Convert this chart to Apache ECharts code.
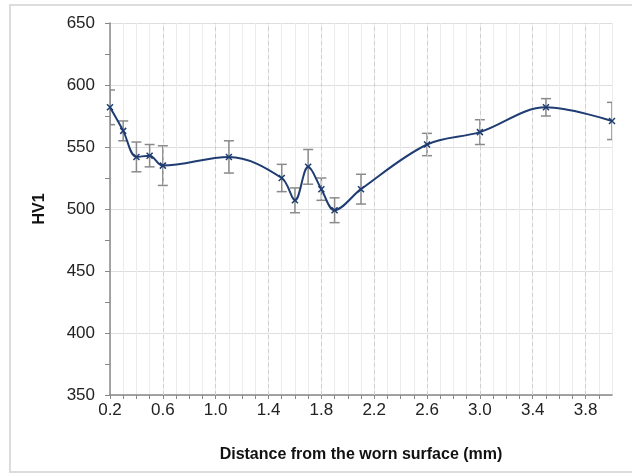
<!DOCTYPE html>
<html>
<head>
<meta charset="utf-8">
<script src="https://cdn.jsdelivr.net/npm/echarts@6/dist/echarts.min.js"></script>
<style>html,body{margin:0;padding:0;background:#fff}#c{width:632px;height:475px}</style>
</head>
<body>
<div id="c"></div>
<script>
var distances = [0.2, 0.3, 0.4, 0.5, 0.6, 1.1, 1.5, 1.6, 1.7, 1.8, 1.9, 2.1, 2.6, 3.0, 3.5, 4.0];
var hardness  = [582, 563, 542, 543, 535, 542, 525, 507, 534, 516, 499, 516, 552, 562, 582, 571];
var errors    = [14, 8, 12, 9, 16, 13, 11, 10, 14, 9, 10, 12, 9, 10, 7, 15];
var xTickLabels = [0.2, 0.6, 1.0, 1.4, 1.8, 2.2, 2.6, 3.0, 3.4, 3.8];
var yTickLabels = [350, 400, 450, 500, 550, 600, 650];
var xTitle = 'Distance from the worn surface (mm)';
var yTitle = 'HV1';

var lineData = distances.map(function (d, i) { return [d, hardness[i]]; });
var errData = distances.map(function (d, i) { return [d, hardness[i] - errors[i], hardness[i] + errors[i]]; });

var crossPath = 'path://M0,0L10,10M10,0L0,10';

var chart = echarts.init(document.getElementById('c'), null, {renderer: 'canvas'});
var font = '"Liberation Sans", Arial, sans-serif';
chart.setOption({
  animation: false,
  graphic: [{
    type: 'rect', shape: {x: 10, y: 5, width: 640, height: 467},
    style: {fill: 'none', stroke: '#dcdcdc', lineWidth: 2}, z: -10
  }],
  grid: {left: 110, right: 20, top: 23, bottom: 80},
  xAxis: {
    type: 'value', min: 0.2, max: 4.0, interval: 0.1,
    name: xTitle, nameLocation: 'middle', nameGap: 52,
    nameTextStyle: {fontFamily: font, fontSize: 16, fontWeight: 'bold', color: '#111'},
    axisLine: {show: true, lineStyle: {color: '#888', width: 1.5}},
    axisTick: {show: true, length: 4, lineStyle: {color: '#888'}},
    axisLabel: {
      fontFamily: font, fontSize: 17, color: '#222', margin: 7, showMaxLabel: false,
      formatter: function (v) {
        for (var i = 0; i < xTickLabels.length; i++) {
          if (Math.abs(v - xTickLabels[i]) < 1e-6) return xTickLabels[i].toFixed(1);
        }
        return '';
      }
    },
    splitLine: {show: true, lineStyle: {color: '#ececec', width: 1}}
  },
  yAxis: {
    type: 'value', min: yTickLabels[0], max: yTickLabels[yTickLabels.length - 1], interval: 50,
    name: yTitle, nameLocation: 'middle', nameGap: 62,
    nameTextStyle: {fontFamily: font, fontSize: 16, fontWeight: 'bold', color: '#111'},
    axisLine: {show: true, lineStyle: {color: '#888', width: 1.5}},
    axisTick: {show: true, length: 5, lineStyle: {color: '#888'}},
    minorTick: {show: true, splitNumber: 2, length: 5, lineStyle: {color: '#888'}},
    axisLabel: {fontFamily: font, fontSize: 17, color: '#222', margin: 15},
    splitLine: {show: true, lineStyle: {color: '#dedede', width: 1.2}}
  },
  series: [
    {
      type: 'line', data: [], silent: true,
      markLine: {
        silent: true, symbol: 'none', label: {show: false},
        lineStyle: {color: '#cfcfcf', type: [4, 3], width: 1},
        data: xTickLabels.slice(1).map(function (v) { return {xAxis: v}; })
      }
    },
    {
      type: 'custom', clip: true, z: 3,
      data: errData,
      renderItem: function (params, api) {
        var x = api.value(0);
        var lo = api.coord([x, api.value(1)]);
        var hi = api.coord([x, api.value(2)]);
        var w = 5;
        var st = {stroke: '#8a8a8a', lineWidth: 1.5, fill: 'none'};
        return {
          type: 'group',
          children: [
            {type: 'line', shape: {x1: lo[0], y1: lo[1], x2: hi[0], y2: hi[1]}, style: st},
            {type: 'line', shape: {x1: lo[0] - w, y1: lo[1], x2: lo[0] + w, y2: lo[1]}, style: st},
            {type: 'line', shape: {x1: hi[0] - w, y1: hi[1], x2: hi[0] + w, y2: hi[1]}, style: st}
          ]
        };
      }
    },
    {
      type: 'line', data: lineData, smooth: 0.35, z: 5,
      lineStyle: {color: '#1f3d73', width: 2},
      symbol: crossPath, symbolSize: 6,
      itemStyle: {color: '#1f3d73', borderColor: '#1f3d73', borderWidth: 1.5}
    }
  ]
});
</script>
</body>
</html>
